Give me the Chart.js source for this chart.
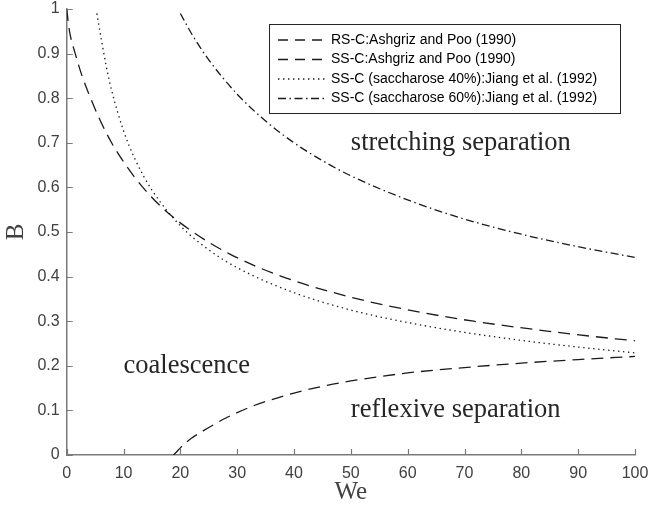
<!DOCTYPE html>
<html>
<head>
<meta charset="utf-8">
<script src="https://cdn.jsdelivr.net/npm/chart.js@4.4.1/dist/chart.umd.min.js"></script>
<style>
html,body{margin:0;padding:0;background:#ffffff;}
#wrap{width:649px;height:510px;position:relative;}
canvas{display:block;}
</style>
</head>
<body>
<div id="wrap"><canvas id="chart" width="649" height="510"></canvas></div>
<script>
// ---- data ----
const xTicks = [0, 10, 20, 30, 40, 50, 60, 70, 80, 90, 100];
const yTicks = [0, 0.1, 0.2, 0.3, 0.4, 0.5, 0.6, 0.7, 0.8, 0.9, 1];
const yTickLabels = ['0', '0.1', '0.2', '0.3', '0.4', '0.5', '0.6', '0.7', '0.8', '0.9', '1'];

const seriesLabels = [
  'RS-C:Ashgriz and Poo (1990)',
  'SS-C:Ashgriz and Poo (1990)',
  'SS-C (saccharose 40%):Jiang et al. (1992)',
  'SS-C (saccharose 60%):Jiang et al. (1992)'
];

// RS-C (Ashgriz and Poo 1990)
const rsWe = [18.8, 19.4, 20, 21, 22, 24, 26, 28, 30, 33, 36, 40, 45, 50, 60, 70, 80, 90, 100];
const rsB  = [0, 0.008, 0.016, 0.028, 0.038, 0.054, 0.069, 0.083, 0.095, 0.111, 0.124, 0.139, 0.154, 0.166, 0.184, 0.196, 0.206, 0.214, 0.221];

// SS-C (Ashgriz and Poo 1990)
const ssWe = [0, 0.5, 1.5, 2.7, 4.2, 5.9, 7.9, 10.4, 13.4, 17.2, 22.2, 28.8, 37.9, 51.2, 62.3, 71.6, 89.7, 100];
const ssB  = [1, 0.95, 0.9, 0.85, 0.8, 0.75, 0.7, 0.65, 0.6, 0.55, 0.5, 0.45, 0.4, 0.35, 0.32, 0.3, 0.27, 0.256];

// SS-C saccharose 40% (Jiang et al. 1992)
const s40We = [5.3, 6, 7, 8, 10, 12, 15, 20, 25, 30, 40, 50, 60, 70, 80, 90, 100];
const s40B  = [0.99, 0.939, 0.869, 0.813, 0.727, 0.664, 0.594, 0.514, 0.46, 0.42, 0.364, 0.325, 0.297, 0.275, 0.257, 0.242, 0.229];

// SS-C saccharose 60% (Jiang et al. 1992)
const s60We = [20, 22, 25, 30, 35, 40, 45, 50, 60, 70, 80, 90, 100];
const s60B  = [0.99, 0.944, 0.886, 0.809, 0.749, 0.70, 0.66, 0.626, 0.572, 0.529, 0.495, 0.467, 0.443];

// region labels
const regionTexts = ['stretching separation', 'coalescence', 'reflexive separation'];
const regionWe = [50, 10, 50];
const regionB  = [0.7, 0.2, 0.1];

// ---- build ----
function pts(xs, ys) { return xs.map((x, i) => ({x: x, y: ys[i]})); }

const dashes = [[12, 7], [12, 7], [1.4, 3.6], [8, 3.5, 1.5, 3.5]];
const allX = [rsWe, ssWe, s40We, s60We];
const allY = [rsB, ssB, s40B, s60B];

const datasets = seriesLabels.map((lab, i) => ({
  label: lab,
  data: pts(allX[i], allY[i]),
  showLine: true,
  borderColor: '#1a1a1a',
  backgroundColor: '#1a1a1a',
  borderWidth: 1.3,
  borderDash: dashes[i],
  pointRadius: 0,
  pointHoverRadius: 0,
  cubicInterpolationMode: 'monotone',
  fill: false
}));

const axisColor = '#7a7a7a';
const tickColor = '#404040';

const innerTicks = {
  id: 'innerTicks',
  afterDatasetsDraw(chart) {
    const ctx = chart.ctx;
    const xs = chart.scales.x, ys = chart.scales.y;
    const a = chart.chartArea;
    ctx.save();
    ctx.strokeStyle = axisColor;
    ctx.lineWidth = 1.2;
    ctx.setLineDash([]);
    ctx.beginPath();
    xTicks.forEach(v => {
      const p = Math.round(xs.getPixelForValue(v)) + 0.5;
      ctx.moveTo(p, a.bottom);
      ctx.lineTo(p, a.bottom - 6);
    });
    yTicks.forEach(v => {
      const p = Math.round(ys.getPixelForValue(v)) + 0.5;
      ctx.moveTo(a.left, p);
      ctx.lineTo(a.left + 6, p);
    });
    ctx.stroke();
    ctx.restore();
  }
};

const regionLabels = {
  id: 'regionLabels',
  afterDatasetsDraw(chart) {
    const ctx = chart.ctx;
    const xs = chart.scales.x, ys = chart.scales.y;
    ctx.save();
    ctx.fillStyle = '#262626';
    ctx.font = '26.5px "Liberation Serif", "Times New Roman", serif';
    ctx.textAlign = 'left';
    ctx.textBaseline = 'middle';
    regionTexts.forEach((t, i) => {
      ctx.fillText(t, xs.getPixelForValue(regionWe[i]), ys.getPixelForValue(regionB[i]));
    });
    ctx.restore();
  }
};

const boxLegend = {
  id: 'boxLegend',
  afterDraw(chart) {
    const ctx = chart.ctx;
    const left = 269.5, top = 24.5, right = 620.5, bottom = 113.5;
    ctx.save();
    ctx.fillStyle = '#ffffff';
    ctx.fillRect(left, top, right - left, bottom - top);
    ctx.strokeStyle = '#262626';
    ctx.lineWidth = 1;
    ctx.setLineDash([]);
    ctx.strokeRect(left, top, right - left, bottom - top);
    ctx.font = '14px "Liberation Sans", Arial, sans-serif';
    ctx.textBaseline = 'middle';
    ctx.textAlign = 'left';
    chart.data.datasets.forEach((ds, i) => {
      const y = 40 + i * 19.5;
      ctx.strokeStyle = ds.borderColor;
      ctx.lineWidth = ds.borderWidth;
      ctx.setLineDash(i < 2 ? [10, 7] : ds.borderDash);
      ctx.beginPath();
      ctx.moveTo(278, y);
      ctx.lineTo(326, y);
      ctx.stroke();
      ctx.setLineDash([]);
      ctx.fillStyle = '#000000';
      ctx.fillText(ds.label, 331, y);
    });
    ctx.restore();
  }
};

new Chart(document.getElementById('chart'), {
  type: 'scatter',
  data: { datasets: datasets },
  options: {
    responsive: false,
    devicePixelRatio: 1,
    animation: false,
    events: [],
    layout: { padding: { top: 9, right: 14, left: 0, bottom: 0 } },
    plugins: { legend: { display: false }, tooltip: { enabled: false } },
    scales: {
      x: {
        type: 'linear', min: 0, max: 100,
        afterBuildTicks: s => { s.ticks = xTicks.map(v => ({value: v})); },
        afterFit: s => { s.height = 55; s.paddingLeft = 0; s.paddingRight = 0; },
        grid: { drawOnChartArea: false, drawTicks: false },
        border: { display: true, color: axisColor, width: 1.5 },
        ticks: { color: tickColor, padding: 9, maxRotation: 0, autoSkip: false,
                 font: { family: '"Liberation Sans", Arial, sans-serif', size: 16 } },
        title: { display: true, text: 'We', color: '#404040',
                 font: { family: '"Liberation Serif", "Times New Roman", serif', size: 25, lineHeight: 1 },
                 padding: { top: 0, bottom: 5 } }
      },
      y: {
        type: 'linear', min: 0, max: 1,
        afterBuildTicks: s => { s.ticks = yTicks.map(v => ({value: v})); },
        afterFit: s => { s.width = 66.7; s.paddingTop = 0; s.paddingBottom = 0; },
        grid: { drawOnChartArea: false, drawTicks: false },
        border: { display: true, color: axisColor, width: 1.5 },
        ticks: { color: tickColor, padding: 7, autoSkip: false,
                 callback: (v) => yTickLabels[yTicks.indexOf(Math.round(v * 10) / 10)],
                 font: { family: '"Liberation Sans", Arial, sans-serif', size: 16 } },
        title: { display: true, text: 'B', color: '#404040',
                 font: { family: '"Liberation Serif", "Times New Roman", serif', size: 25, lineHeight: 1 },
                 padding: { top: 3.5, bottom: 0 } }
      }
    }
  },
  plugins: [innerTicks, regionLabels, boxLegend]
});
</script>
</body>
</html>
